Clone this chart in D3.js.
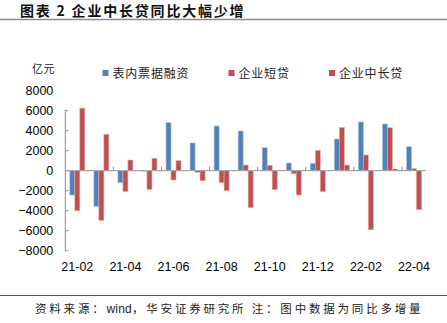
<!DOCTYPE html>
<html><head><meta charset="utf-8">
<script src="https://cdn.jsdelivr.net/npm/d3@7/dist/d3.min.js"></script>
<style>body{margin:0;background:#fff}svg{display:block}</style>
</head><body>
<svg id="c" width="447" height="323"></svg>
<script>
const months = ["21-02","21-03","21-04","21-05","21-06","21-07","21-08","21-09","21-10","21-11","21-12","22-01","22-02","22-03","22-04"];
const seriesNames = ["表内票据融资","企业短贷","企业中长贷"];
const billFinancing = [-2430,-3560,-1200,-50,4800,2770,4470,3970,2300,770,730,3170,4870,4670,2400];
const shortLoans = [-4000,-4960,-2070,-1860,-930,-160,-1200,570,540,-300,2030,4330,1570,4300,200];
const longLoans = [6250,3640,1070,1240,1000,-1000,-2000,-3700,-1900,-2430,-2100,570,-5900,170,-3900];
const yTicks = [-8000,-6000,-4000,-2000,0,2000,4000,6000,8000];
const xLabelMonths = ["21-02","21-04","21-06","21-08","21-10","21-12","22-02","22-04"];
const colors = ["#4F81BD","#C0504D","#C0504D"];
const strokes = ["#a9c1e0","#e3a8a6","#e3a8a6"];

const svg = d3.select("#c");
const fontSans = "Arial, 'Liberation Sans', sans-serif";
const fontCJK = "'Noto Sans CJK SC', sans-serif";

// title
svg.append("text").attr("x",20).attr("y",15.5).attr("font-family",fontCJK).attr("font-weight","bold")
  .attr("font-size",14).attr("letter-spacing",1.8).attr("fill","#111").text("图表 2 企业中长贷同比大幅少增");
svg.append("line").attr("x1",0).attr("x2",447).attr("y1",19.5).attr("y2",19.5).attr("stroke","#8c8c8c").attr("stroke-width",1.5);

const left = 65.3, right = 426;
const x = d3.scaleBand().domain(months).range([left,right]).paddingInner(0).paddingOuter(0);
const bw = x.bandwidth();
const gw = 15;
const x1 = d3.scaleBand().domain(seriesNames).range([(bw-gw)/2,(bw+gw)/2]);
const y = d3.scaleLinear().domain([-8000,8000]).range([250.7,90.7]);

const data = [billFinancing, shortLoans, longLoans];

// bars
seriesNames.forEach((s,si)=>{
  svg.append("g").selectAll("rect").data(months).join("rect")
    .attr("x",(m)=>x(m)+x1(s))
    .attr("width",x1.bandwidth())
    .attr("y",(m,i)=>Math.min(y(data[si][i]),y(0)))
    .attr("height",(m,i)=>Math.abs(y(data[si][i])-y(0)))
    .attr("fill",colors[si])
    .attr("stroke",strokes[si]).attr("stroke-width",0.6);
});

// y axis
const yAxis = d3.axisLeft(y).tickValues(yTicks).tickSize(0).tickPadding(12).tickFormat(d3.format("d"));
const ga = svg.append("g").attr("transform",`translate(${left},0)`).call(yAxis);
ga.select(".domain").remove();
ga.selectAll("text").attr("font-family",fontSans).attr("font-size",12.5).attr("fill","#000");
svg.append("line").attr("x1",left).attr("x2",left).attr("y1",y(6000)-1).attr("y2",y(-8000)).attr("stroke","#8c8c8c").attr("stroke-width",1);
svg.append("g").selectAll("line").data(yTicks.filter(d=>d<=6000)).join("line")
  .attr("x1",left).attr("x2",left+3).attr("y1",d=>y(d)).attr("y2",d=>y(d)).attr("stroke","#8c8c8c");

// zero line
svg.append("line").attr("x1",left).attr("x2",right).attr("y1",y(0)).attr("y2",y(0)).attr("stroke","#a6a6a6").attr("stroke-width",1.2);
// x ticks at every 2nd boundary
const bIdx = [2,4,6,8,10,12,14];
svg.append("g").selectAll("line").data(bIdx).join("line")
  .attr("x1",i=>x(months[i])).attr("x2",i=>x(months[i]))
  .attr("y1",y(0)-4).attr("y2",y(0)).attr("stroke","#8c8c8c");

// x labels
svg.append("g").selectAll("text").data(xLabelMonths).join("text")
  .attr("x",m=>x(m)+bw/2).attr("y",271).attr("text-anchor","middle")
  .attr("font-family",fontSans).attr("font-size",12.5).attr("fill","#000").text(d=>d);

// unit
svg.append("text").attr("x",32).attr("y",73).attr("font-family",fontCJK).attr("font-size",11).attr("letter-spacing",0.5).attr("fill","#222").text("亿元");

// legend
const legX = [102.5,228.5,329];
seriesNames.forEach((s,i)=>{
  svg.append("rect").attr("x",legX[i]).attr("y",70).attr("width",6).attr("height",6).attr("fill",colors[i]);
  svg.append("text").attr("x",legX[i]+10).attr("y",77.5).attr("font-family",fontCJK).attr("font-size",12)
    .attr("letter-spacing",0.8).attr("fill","#222").text(s);
});

// footer
svg.append("line").attr("x1",0).attr("x2",447).attr("y1",295.5).attr("y2",295.5).attr("stroke","#555").attr("stroke-width",1);
const ft = svg.append("text").attr("x",35).attr("y",313).attr("font-family",fontCJK).attr("font-size",11.5).attr("fill","#222");
ft.append("tspan").attr("letter-spacing",2.8).text("资料来源：");
ft.append("tspan").attr("font-family",fontSans).attr("font-size",12).attr("letter-spacing",0.2).text("wind");
ft.append("tspan").attr("letter-spacing",2.8).text("，华安证券研究所 注：图中数据为同比多增量");
</script>
</body></html>
